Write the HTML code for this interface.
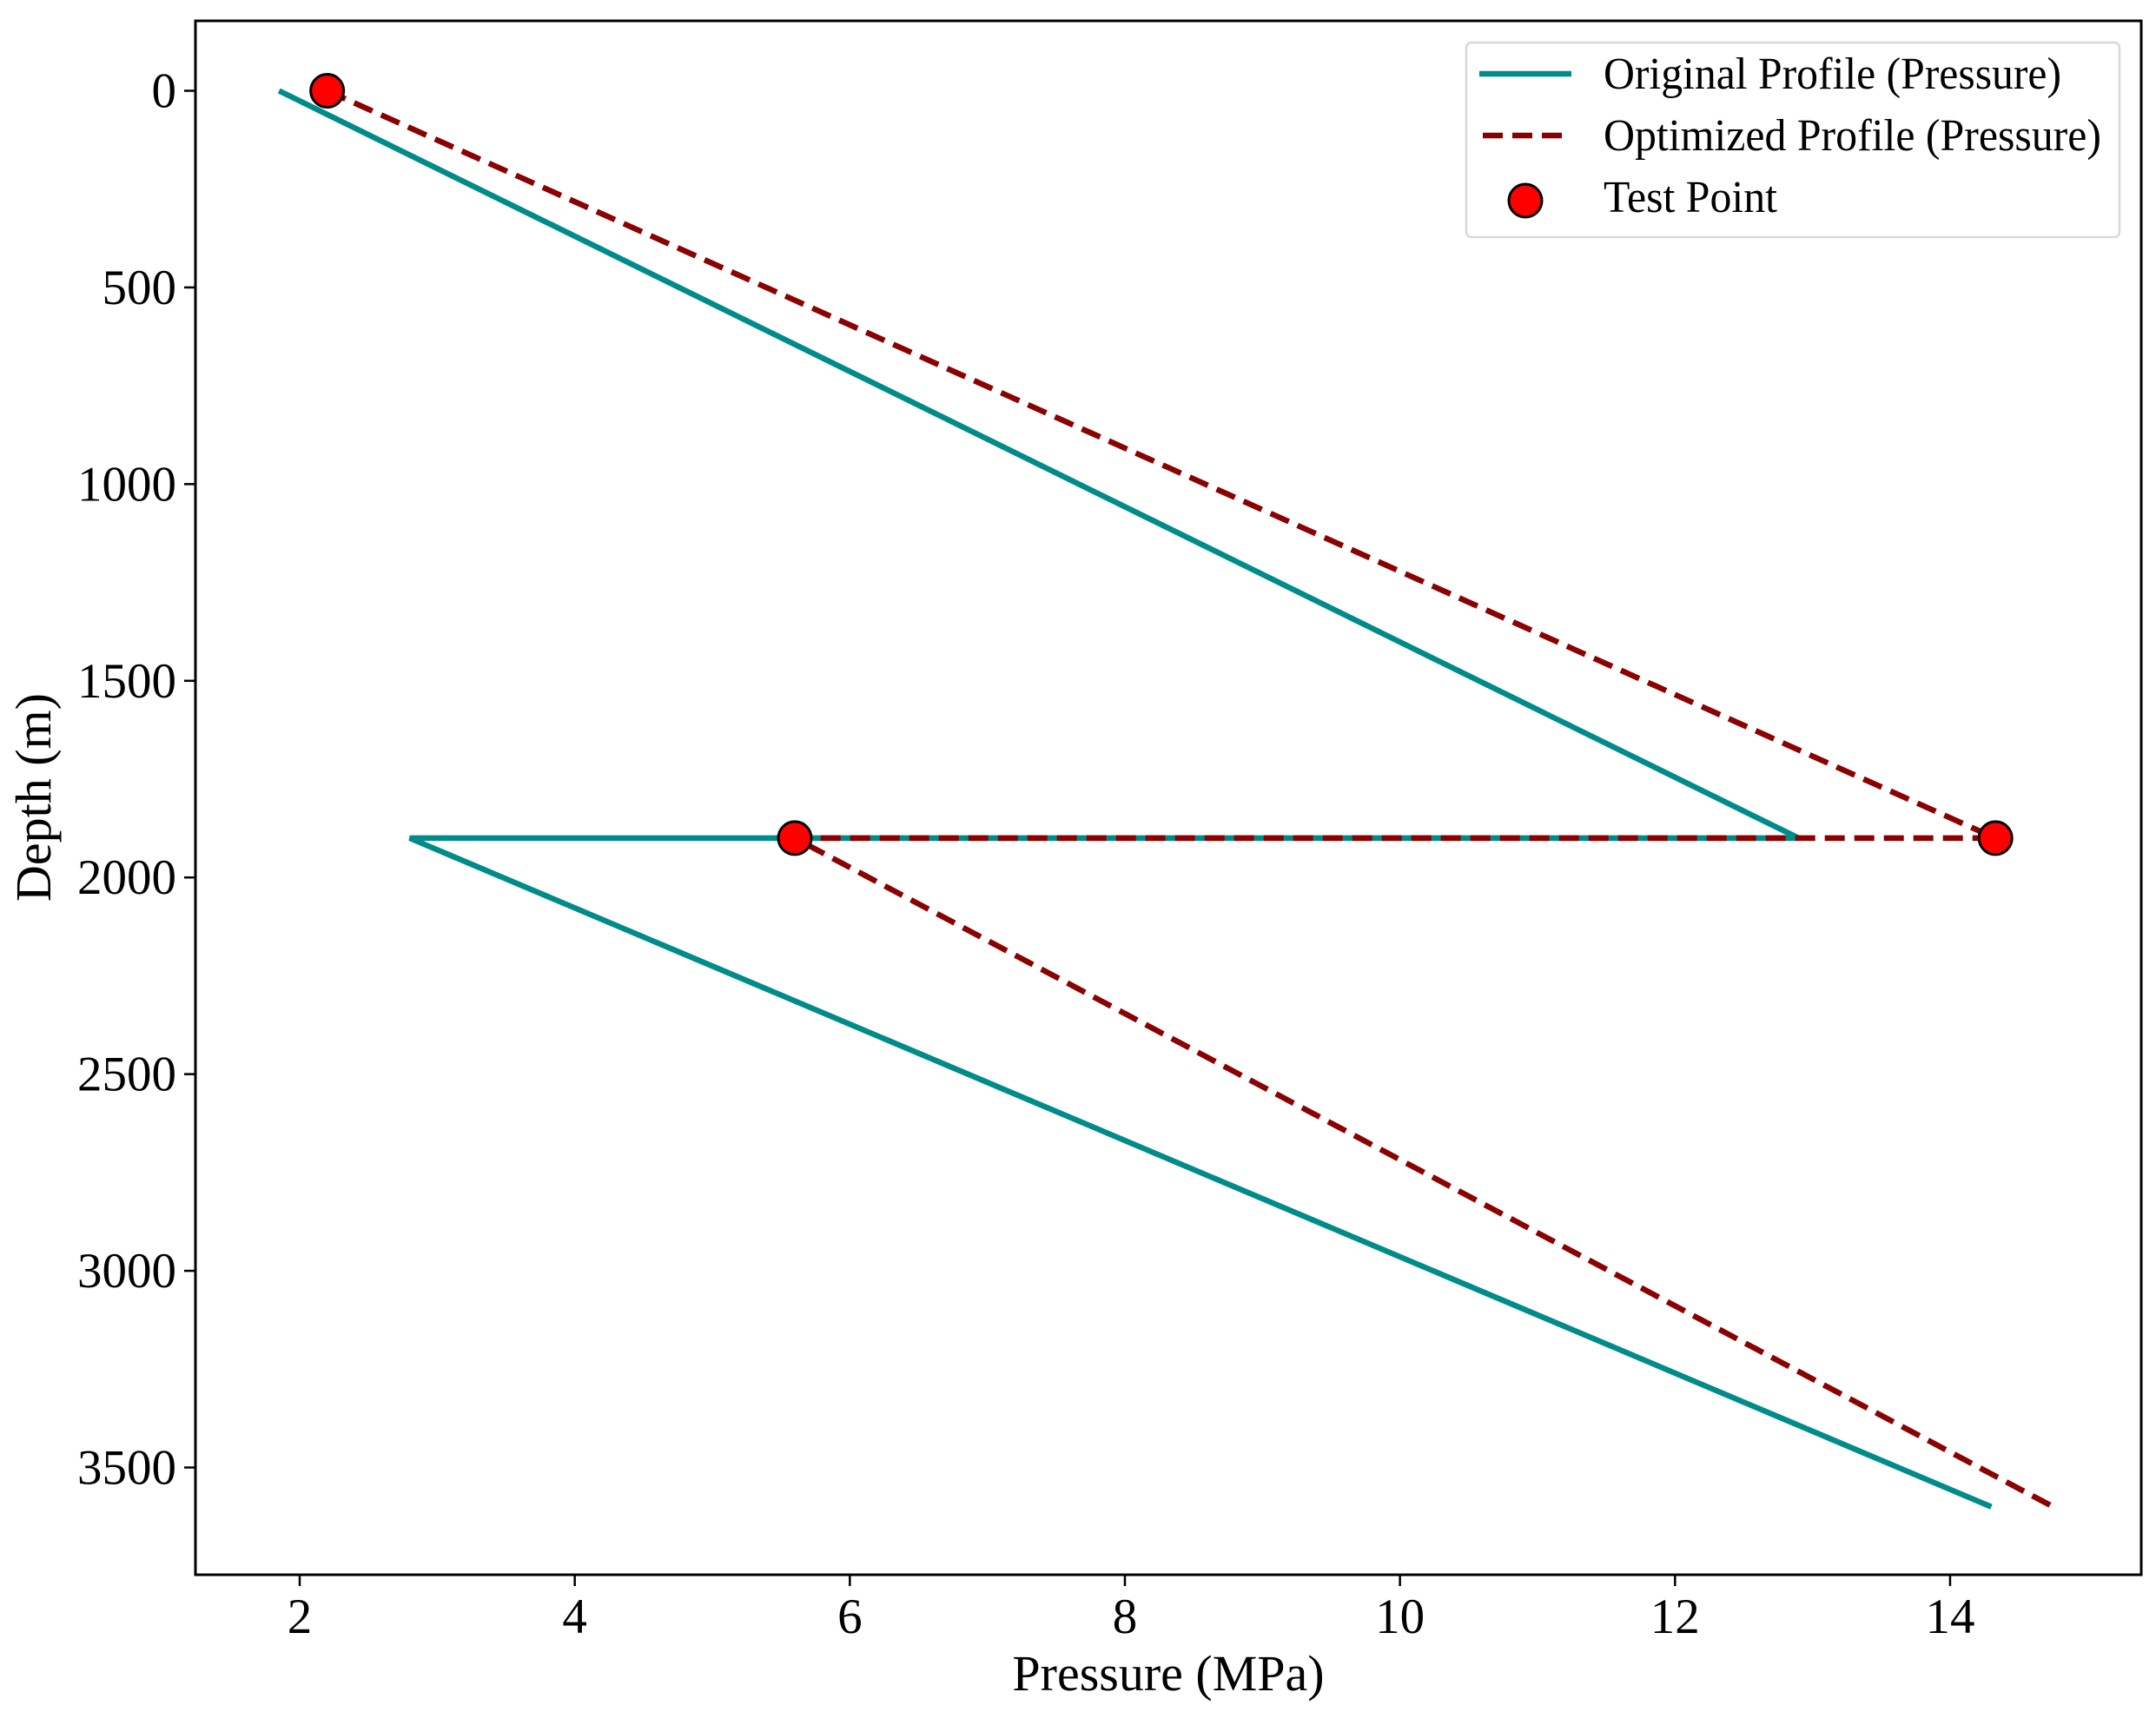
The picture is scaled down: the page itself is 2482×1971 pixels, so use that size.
<!DOCTYPE html>
<html><head><meta charset="utf-8"><style>
html,body{margin:0;padding:0;background:#fff}
svg{display:block;font-family:"Liberation Serif",serif}
</style></head><body>
<svg id="chart" width="2482" height="1971" viewBox="0 0 2482 1971">
<g id="axes"></g>
</svg>
<script>
const xTicks=[2,4,6,8,10,12,14];
const yTicks=[0,500,1000,1500,2000,2500,3000,3500];
const origP=[1.85,12.9,2.8,14.3];
const origD=[0,1900,1900,3600];
const optP=[2.2,14.33,5.6,14.75];
const optD=[0,1900,1900,3600];
const testP=[2.2,14.33,5.6];
const testD=[0,1900,1900];

const L=225,R=2465,T=24,B=1813;
const X=v=>345+(v-2)*158.33;
const Y=d=>104.5+d*0.45286;
const NS='http://www.w3.org/2000/svg';
const svg=document.getElementById('chart');
function mk(tag,attrs,parent){const e=document.createElementNS(NS,tag);for(const k in attrs)e.setAttribute(k,attrs[k]);(parent||svg).appendChild(e);return e;}

const pts=(P,D)=>P.map((p,i)=>X(p)+','+Y(D[i])).join(' ');
const o=mk('polyline',{points:pts(origP,origD),fill:'none',stroke:'#008B8B','stroke-width':6.5,'stroke-linejoin':'miter'});


const op=mk('polyline',{points:pts(optP,optD),fill:'none',stroke:'#8B0000','stroke-width':6.5,'stroke-dasharray':'23,11'});


testP.forEach((p,i)=>{
  const c=mk('circle',{cx:X(p),cy:Y(testD[i]),r:19,fill:'#ff0000',stroke:'#000','stroke-width':3});
  
  
});

const fr=mk('rect',{x:L,y:T,width:R-L,height:B-T,fill:'none',stroke:'#000','stroke-width':3});



xTicks.forEach(v=>{
  const t=mk('line',{x1:X(v),x2:X(v),y1:B,y2:B+13,stroke:'#000','stroke-width':2.5});
  
  
  const l=mk('text',{x:X(v),y:1880,'font-size':57,'text-anchor':'middle'});
  l.textContent=v;
  
  
});
yTicks.forEach(v=>{
  const t=mk('line',{x1:L-13,x2:L,y1:Y(v),y2:Y(v),stroke:'#000','stroke-width':2.5});
  
  
  const l=mk('text',{x:203,y:Y(v)+19,'font-size':57,'text-anchor':'end'});
  l.textContent=v;
  
  
});
const xl=mk('text',{x:1345,y:1946,'font-size':58,'text-anchor':'middle'});
xl.textContent='Pressure (MPa)';


const yl=mk('text',{x:0,y:0,'font-size':58,'text-anchor':'middle',transform:'translate(58,918) rotate(-90)'});
yl.textContent='Depth (m)';



const lg=mk('g',{});


mk('rect',{x:1688,y:49,width:752,height:224,rx:6,fill:'#fff',stroke:'#d8d8d8','stroke-width':2.5},lg);
const e1=mk('line',{x1:1703,x2:1809,y1:85,y2:85,stroke:'#008B8B','stroke-width':6.5},lg);


const e2=mk('line',{x1:1707,x2:1809,y1:156,y2:156,stroke:'#8B0000','stroke-width':6.5,'stroke-dasharray':'23,11'},lg);


const e3=mk('circle',{cx:1756,cy:231,r:19,fill:'#ff0000',stroke:'#000','stroke-width':3},lg);


[['Original Profile (Pressure)',102,527],['Optimized Profile (Pressure)',173,573],['Test Point',244,200]].forEach(([s,y,w])=>{
  const t=mk('text',{x:1846,y:y,'font-size':52,textLength:w,lengthAdjust:'spacingAndGlyphs'},lg);
  t.textContent=s;
  
  
});
</script>
</body></html>
